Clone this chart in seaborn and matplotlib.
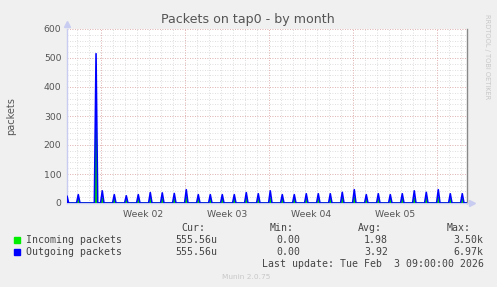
import numpy as np
import pandas as pd
import matplotlib
matplotlib.use("Agg")
import matplotlib.pyplot as plt
import seaborn as sns

# ---------------- data ----------------
# spike times, in days since the start of the graph window (33 d 8 h)
spike_days = [0.00, 0.94, 2.42, 2.94, 3.94, 4.94, 5.94, 6.94, 7.94, 8.94, 9.94,
              10.94, 11.94, 12.94, 13.94, 14.94, 15.94, 16.94, 17.94, 18.94,
              19.94, 20.94, 21.94, 22.94, 23.94, 24.94, 25.94, 26.94, 27.94,
              28.94, 29.94, 30.94, 31.94, 32.94]
outgoing = [24, 29, 515, 42, 29, 25, 29, 36, 35, 33, 46, 29, 29, 29, 29, 36,
            32, 42, 29, 29, 32, 32, 32, 37, 46, 29, 32, 29, 32, 42, 37, 46, 32, 32]
incoming = [10, 12, 258, 17, 12, 10, 12, 15, 14, 13, 19, 12, 12, 12, 12, 15,
            13, 17, 12, 12, 13, 13, 13, 15, 19, 12, 13, 12, 13, 17, 15, 19, 13, 13]
window_days = 33.333
week_ticks = [2.83, 9.83, 16.83, 23.83, 30.83]
week_labels = ["Week 02", "Week 03", "Week 04", "Week 05"]
y_ticks = [0, 100, 200, 300, 400, 500, 600]

legend_names = ["Incoming packets", "Outgoing packets"]
cur_vals = ["555.56u", "555.56u"]
min_vals = ["0.00", "0.00"]
avg_vals = ["1.98", "3.92"]
max_vals = ["3.50k", "6.97k"]
title = "Packets on tap0 - by month"
last_update = "Last update: Tue Feb  3 09:00:00 2026"

GREEN = "#00DD00"
BLUE = "#0000FF"

def build(days, vals, hw):
    xs, ys = [0.0, window_days], [0.0, 0.0]
    for d, v in zip(days, vals):
        xs += [d - hw, d, d + hw]
        ys += [0.0, v, 0.0]
    return pd.DataFrame({"day": xs, "value": ys})

df_in = build(spike_days, incoming, 0.05)
df_out = build(spike_days, outgoing, 0.14)

# ---------------- figure ----------------
sns.set_style("white")
plt.rcParams["font.family"] = ["DejaVu Sans"]
W, H = 497, 287
fig = plt.figure(figsize=(W / 100, H / 100), dpi=100, facecolor="#F0F0F0")
ax = fig.add_axes([67 / W, (H - 203) / H, 400 / W, 174 / H])
ax.set_facecolor("white")

ax.set_xlim(0, window_days)
ax.set_ylim(0, 600)

# grid
minor_x = np.arange(week_ticks[0] - 2, window_days, 1.0)
for x in minor_x:
    ax.axvline(x, color="#D4D4D4", lw=0.6, ls=(0, (1, 2)), zorder=0)
for y in np.arange(0, 601, 20):
    ax.axhline(y, color="#D4D4D4", lw=0.6, ls=(0, (1, 2)), zorder=0)
for x in week_ticks:
    ax.axvline(x, color="#E8A8A8", lw=0.6, ls=(0, (1, 2)), zorder=0.5)
for y in y_ticks:
    ax.axhline(y, color="#E8A8A8", lw=0.6, ls=(0, (1, 2)), zorder=0.5)

sns.lineplot(data=df_in, x="day", y="value", color=GREEN, lw=1.0,
             estimator=None, sort=True, ax=ax, zorder=3)
sns.lineplot(data=df_out, x="day", y="value", color=BLUE, lw=1.15,
             estimator=None, sort=True, ax=ax, zorder=4)

# axes cosmetics
ax.spines["top"].set_visible(False)
ax.spines["left"].set_color("#C8CCF0")
ax.spines["bottom"].set_color("#C8CCF0")
ax.spines["right"].set_color("#888888")
for s in ["left", "bottom", "right"]:
    ax.spines[s].set_linewidth(1)
ax.plot([0], [1.03], marker="^", color="#C8CCF0", ms=5, transform=ax.transAxes, clip_on=False)
ax.plot([1.012], [0], marker=">", color="#C8CCF0", ms=5, transform=ax.transAxes, clip_on=False)

ax.set_yticks(y_ticks)
ax.set_yticklabels([str(v) for v in y_ticks])
ax.set_xticks([(a + b) / 2 for a, b in zip(week_ticks[:-1], week_ticks[1:])])
ax.set_xticklabels(week_labels)
ax.tick_params(axis="both", length=0, labelsize=6.7, labelcolor="#555555", pad=4)
ax.tick_params(axis="x", pad=5)
ax.set_xlabel("")
ax.set_ylabel("packets", fontsize=7, color="#555555")
ax.yaxis.set_label_coords(-51 / 400, 0.5)

fig.text(248 / W, 1 - 19 / H, title, ha="center", va="center", fontsize=9.1, color="#555555")
fig.text(487 / W, 1 - 57 / H, "RRDTOOL / TOBI OETIKER", rotation=270, ha="center", va="center",
         fontsize=4.8, color="#C8C8C8")

mono = dict(family="DejaVu Sans Mono", fontsize=7.1, color="#444444", va="center", ha="left")
def t(x, y, s, **kw):
    d = dict(mono); d.update(kw)
    fig.text(x / W, 1 - y / H, s, **d)

t(181, 228, "Cur:"); t(270, 228, "Min:"); t(358, 228, "Avg:"); t(447, 228, "Max:")
rows_y = [240, 251.7]
for i, (nm, col) in enumerate(zip(legend_names, ["#00EE00", BLUE])):
    y = rows_y[i]
    fig.patches.append(plt.Rectangle((14 / W, 1 - (y + 3) / H), 6 / W, 6 / H,
                                     transform=fig.transFigure, color=col, figure=fig))
    t(26.5, y, nm)
    t(175, y, cur_vals[i]); t(276, y, min_vals[i]); t(364, y, avg_vals[i]); t(453, y, max_vals[i])
t(262, 264, last_update)
fig.text(246 / W, 1 - 277 / H, "Munin 2.0.75", ha="center", va="center", fontsize=5.3, color="#C8C8C8")

fig.savefig("out.png", dpi=100, facecolor=fig.get_facecolor())
